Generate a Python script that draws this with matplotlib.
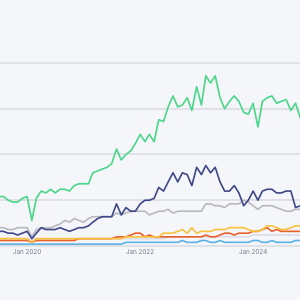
import matplotlib
matplotlib.use("Agg")
import matplotlib.pyplot as plt
import pandas as pd

# monthly search interest, Jul 2019 .. Nov 2024 (0-100 scale)
months = pd.date_range("2019-07-01", periods=65, freq="MS")

green = [27, 27, 25, 24, 24, 26, 27, 14, 26, 30, 29, 31, 29, 31, 31, 30, 33, 34, 34, 34,
         40, 41, 42, 43, 45, 53, 47, 50, 52, 56, 61, 57, 61, 57, 69, 68, 76, 82, 76, 77,
         81, 74, 87, 77, 93, 89, 93, 81, 75, 79, 82, 79, 73, 72, 78, 65, 79, 81, 82, 78,
         79, 80, 74, 78, 70]
navy = [8, 8, 7, 7, 6, 7, 8, 4, 7, 10, 9, 9, 9, 10, 9, 8, 9, 10, 10, 11,
        13, 15, 16, 16, 16, 23, 17, 21, 19, 19, 23, 25, 25, 26, 32, 30, 35, 40, 35, 40,
        39, 33, 43, 39, 44, 40, 43, 35, 30, 30, 33, 29, 22, 25, 30, 25, 30, 31, 31, 29,
        29, 30, 30, 21, 22]
gray = [10, 10, 9, 9, 10, 10, 10, 5, 9, 10, 10, 10, 11, 12, 14, 13, 15, 14, 13, 15,
        16, 16, 16, 16, 16, 18, 17, 18, 19, 19, 19, 19, 17, 18, 19, 19, 20, 18, 19, 19,
        19, 19, 19, 19, 23, 23, 22, 22, 21, 23, 23, 23, 25, 24, 22, 20, 22, 22, 22, 21,
        20, 19, 19, 20, 20]
yellow = [4, 4, 4, 4, 4, 4, 4, 2, 4, 4, 4, 4, 4, 4, 4, 4, 4, 4, 4, 4,
          4, 4, 4, 4, 4, 4, 4, 5, 5, 5, 5, 5, 5, 5, 5, 7, 7, 7, 8, 9,
          7, 10, 7, 8, 8, 8, 9, 9, 9, 10, 10, 10, 10, 9, 8, 8, 9, 11, 11, 10,
          9, 9, 10, 11, 11]
orange = [3, 3, 3, 3, 3, 3, 3, 2, 3, 3, 3, 3, 3, 3, 3, 3, 3, 4, 4, 4,
          4, 4, 4, 4, 4, 5, 5, 5, 6, 7, 7, 5, 6, 5, 5, 5, 5, 5, 5, 5,
          5, 5, 5, 5, 6, 5, 5, 6, 7, 7, 6, 7, 7, 7, 8, 8, 9, 10, 8, 9,
          8, 8, 8, 8, 8]
pale = [4, 4, 4, 4, 4, 4, 4, 3, 4, 4, 4, 4, 4, 4, 4, 4, 4, 4, 4, 4,
        4, 4, 4, 4, 4, 4, 4, 4, 4, 4, 4, 4, 4, 4, 4, 4, 5, 5, 5, 5,
        5, 5, 5, 5, 5, 5, 5, 5, 5, 5, 5, 5, 5, 5, 6, 6, 6, 6, 6, 6,
        6, 6, 6, 6, 6]
blue = [1, 1, 1, 1, 1, 1, 1, 1, 1, 1, 1, 1, 1, 1, 1, 1, 1, 1, 1, 1,
        1, 1, 1, 1, 1, 1, 1, 2, 2, 2, 2, 2, 2, 2, 2, 2, 2, 2, 2, 3,
        2, 2, 2, 3, 3, 2, 2, 3, 2, 2, 2, 2, 2, 2, 3, 3, 2, 2, 3, 2,
        2, 2, 2, 3, 3]

tick_dates = ["2020-01-01", "2022-01-01", "2024-01-01"]
tick_labels = ["Jan 2020", "Jan 2022", "Jan 2024"]

bg = "#f5f6fa"
fig = plt.figure(figsize=(3, 3), dpi=100, facecolor=bg)
ax = fig.add_axes([0, 54 / 300, 1, 246 / 300], facecolor=bg)

series = [(blue, "#5ab2e6"), (pale, "#dcdcea"), (orange, "#e8602c"),
          (yellow, "#f9c23c"), (gray, "#b8b8be"), (navy, "#3f4787"),
          (green, "#4cd68a")]
for vals, col in series:
    ax.plot(months, vals, color=col, lw=1.2)

ax.set_ylim(0, 134.4)
ax.set_xlim(pd.Timestamp("2019-07-10"), pd.Timestamp("2024-10-30"))
ax.set_yticks([25, 50, 75, 100])
ax.yaxis.grid(True, color="#dcdde2", lw=1.2)
ax.axhline(0, color="#dcdde2", lw=1.2, clip_on=False)
ax.set_axisbelow(True)
for s in ax.spines.values():
    s.set_visible(False)

ax.set_xticks([pd.Timestamp(d) for d in tick_dates])
ax.set_xticklabels(tick_labels, fontsize=4.6, color="#7d8290", family="Inter")
ax.tick_params(axis="x", length=0, pad=2.5)
ax.tick_params(axis="y", left=False, labelleft=False)

fig.savefig("out.png", dpi=100, facecolor=bg)
